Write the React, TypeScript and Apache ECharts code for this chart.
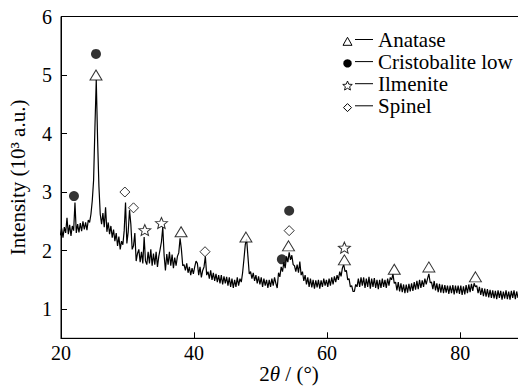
import React, { useEffect, useRef } from "react";
import * as echarts from "echarts";

// XRD pattern: intensities (10^3 a.u.) sampled every 0.2° of 2θ starting at 19.9°
const X_START = 19.9;
const X_STEP = 0.2;
const seg19_9 = [2.26,2.38,2.22,2.40,2.30,2.56,2.28,2.44,2.25,2.42,2.34,2.82,2.30,2.45,2.31,2.47,2.33,2.50,2.36,2.48,2.35,2.52,2.48,2.62,2.85];
const seg24_9 = [3.20,4.10,4.92,3.90,3.10,2.62,2.45,2.64,2.40,2.74,2.32,2.48,2.28,2.42,2.22,2.36,2.16,2.30,2.08,2.24,2.02,2.16,2.10,2.34,2.82];
const seg29_9 = [2.12,2.32,2.69,2.45,2.02,2.08,2.30,1.82,1.95,2.02,1.80,1.98,1.78,2.23,1.82,1.76,1.98,1.78,2.02,1.74,1.95,1.76,1.98,1.72,1.90];
const seg34_9 = [2.02,2.15,2.40,1.92,1.66,1.94,1.76,1.98,1.74,1.93,1.70,1.88,1.74,1.90,1.96,2.21,2.02,1.74,1.76,1.66,1.78,1.62,1.72,1.58,1.70];
const seg39_9 = [1.60,1.72,1.82,1.78,1.58,1.72,1.54,1.66,1.72,1.90,1.58,1.64,1.52,1.66,1.50,1.62,1.48,1.60,1.46,1.58,1.44,1.58,1.42,1.56,1.44];
const seg44_9 = [1.55,1.40,1.54,1.38,1.52,1.36,1.50,1.38,1.54,1.40,1.52,1.46,1.62,1.85,2.10,2.20,1.90,1.60,1.64,1.52,1.62,1.48,1.58,1.44,1.56];
const seg49_9 = [1.42,1.54,1.38,1.52,1.40,1.50,1.36,1.50,1.38,1.52,1.40,1.54,1.44,1.36,1.62,1.55,1.72,1.64,1.80,1.70,1.90,1.80,1.97,1.84,1.92];
const seg54_9 = [1.76,1.74,1.64,1.76,1.62,1.81,1.58,1.64,1.48,1.58,1.42,1.54,1.38,1.52,1.37,1.50,1.35,1.49,1.37,1.50,1.35,1.49,1.38,1.52,1.40];
const seg59_9 = [1.50,1.38,1.52,1.40,1.54,1.42,1.56,1.46,1.58,1.50,1.64,1.56,1.70,1.76,1.64,1.66,1.50,1.52,1.38,1.40,1.30,1.30,1.42,1.38,1.52];
const seg64_9 = [1.38,1.54,1.40,1.54,1.36,1.52,1.38,1.55,1.35,1.52,1.38,1.53,1.36,1.50,1.34,1.50,1.36,1.52,1.38,1.50,1.36,1.52,1.40,1.54,1.50];
const seg69_9 = [1.60,1.44,1.46,1.32,1.46,1.30,1.44,1.29,1.42,1.27,1.42,1.28,1.43,1.30,1.44,1.31,1.46,1.33,1.48,1.34,1.50,1.36,1.49,1.38,1.52];
const seg74_9 = [1.42,1.52,1.60,1.45,1.46,1.34,1.48,1.32,1.44,1.29,1.43,1.28,1.42,1.27,1.41,1.28,1.40,1.26,1.40,1.27,1.41,1.25,1.40,1.27,1.40];
const seg79_9 = [1.26,1.40,1.24,1.39,1.25,1.41,1.27,1.42,1.29,1.43,1.31,1.44,1.38,1.40,1.27,1.38,1.24,1.36,1.22,1.35,1.21,1.34,1.20,1.33,1.19];
const seg84_9 = [1.32,1.18,1.31,1.17,1.32,1.19,1.31,1.16,1.30,1.18,1.32,1.17,1.30,1.16,1.31,1.19,1.32,1.17,1.30,1.19,1.31,1.21];

// Phase markers [2θ, intensity]
const anatase = [[25.26,5.0],[38.05,2.32],[47.8,2.23],[54.2,2.08],[62.6,1.84],[70.1,1.68],[75.3,1.72],[82.3,1.55]];
const cristobalite = [[21.95,2.93],[25.26,5.36],[53.2,1.85],[54.3,2.68]];
const ilmenite = [[32.6,2.35],[35.1,2.47],[62.6,2.05]];
const spinel = [[29.6,3.0],[30.9,2.73],[41.65,1.98],[54.3,2.34]];

const legendNames = ["Anatase", "Cristobalite low", "Ilmenite", "Spinel"];
const yTicks = [1, 2, 3, 4, 5, 6];
const xAxisTitle = "2{i|θ} / (°)";
const yAxisTitle = "Intensity (10³ a.u.)";

const FONT = "Times New Roman, Liberation Serif, Tinos, DejaVu Serif, serif";
const STAR = "path://M10 0 L12.65 6.36 L19.51 6.91 L14.28 11.39 L15.88 18.09 L10 14.5 L4.12 18.09 L5.72 11.39 L0.49 6.91 L7.35 6.36 Z";

function starPoints(cx: number, cy: number, r: number) {
  const pts: number[][] = [];
  for (let i = 0; i < 10; i++) {
    const a = (-90 + i * 36) * Math.PI / 180;
    const rr = i % 2 === 0 ? r : r * 0.45;
    pts.push([cx + rr * Math.cos(a), cy + rr * Math.sin(a)]);
  }
  return pts;
}

export default function App() {
  const ref = useRef<HTMLDivElement>(null);
  useEffect(() => {
    const chart = echarts.init(ref.current!, null, { renderer: "svg" });
    const pattern = [
      ...seg19_9, ...seg24_9, ...seg29_9, ...seg34_9, ...seg39_9, ...seg44_9, ...seg49_9,
      ...seg54_9, ...seg59_9, ...seg64_9, ...seg69_9, ...seg74_9, ...seg79_9, ...seg84_9,
    ];
    const lineData = pattern.map((v, i) => [X_START + i * X_STEP, v]);

    const graphics: any[] = [];
    const mx = 347.5;
    legendNames.forEach((name, i) => {
      const cy = 41.3 + i * 22.1;
      if (i === 0) {
        graphics.push({ type: "polygon", shape: { points: [[mx - 4.5, cy + 4], [mx + 4.5, cy + 4], [mx, cy - 4]] }, style: { fill: "#fff", stroke: "#000", lineWidth: 1 } });
      } else if (i === 1) {
        graphics.push({ type: "circle", shape: { cx: mx, cy: cy, r: 4.2 }, style: { fill: "#000" } });
      } else if (i === 2) {
        graphics.push({ type: "polygon", shape: { points: starPoints(mx, cy + 0.5, 5) }, style: { fill: "#fff", stroke: "#000", lineWidth: 0.9 } });
      } else {
        graphics.push({ type: "polygon", shape: { points: [[mx, cy - 4], [mx + 4, cy], [mx, cy + 4], [mx - 4, cy]] }, style: { fill: "#fff", stroke: "#000", lineWidth: 1 } });
      }
      graphics.push({ type: "line", shape: { x1: 355, y1: cy - 1.8, x2: 373, y2: cy - 1.8 }, style: { stroke: "#000", lineWidth: 1 } });
      graphics.push({ type: "text", x: 378, y: cy - 1.8, style: { text: name, fontFamily: FONT, fontSize: 21, fill: "#000", verticalAlign: "middle", align: "left" } });
    });
    // x-axis title
    graphics.push({
      type: "text", x: 289, y: 373.5,
      style: {
        text: xAxisTitle, fontFamily: FONT, fontSize: 21, fill: "#000", align: "center", verticalAlign: "middle", lineHeight: 21,
        rich: { i: { fontFamily: FONT, fontSize: 21, fontStyle: "italic", fill: "#000", lineHeight: 21 } },
      },
    });

    const openStyle = { color: "#fff", borderColor: "#000", borderWidth: 1 };

    chart.setOption({
      animation: false,
      backgroundColor: "#fff",
      textStyle: { fontFamily: FONT },
      grid: {
        left: 61, right: -2, top: 16.5, bottom: 48.7, containLabel: false, outerBoundsMode: "none",
        show: true, borderColor: "#000", borderWidth: 1, backgroundColor: "transparent",
      },
      xAxis: {
        type: "value", min: 20, max: 89, interval: 20,
        axisLine: { lineStyle: { color: "#000", width: 1 } },
        axisTick: { inside: true, length: 6, lineStyle: { color: "#000" } },
        axisLabel: { fontFamily: FONT, fontSize: 20, color: "#000", margin: 5, showMaxLabel: false },
        splitLine: { show: false },
      },
      yAxis: {
        type: "value", min: 0.5, max: 6,
        name: yAxisTitle, nameLocation: "middle", nameGap: 33,
        nameTextStyle: { fontFamily: FONT, fontSize: 21, color: "#000" },
        axisLine: { show: true, lineStyle: { color: "#000", width: 1 } },
        axisTick: { show: true, inside: true, length: 6, customValues: yTicks, lineStyle: { color: "#000" } },
        axisLabel: { fontFamily: FONT, fontSize: 20, color: "#000", margin: 9, customValues: yTicks },
        splitLine: { show: false },
      },
      series: [
        { type: "line", data: lineData, showSymbol: false, symbol: "none", lineStyle: { color: "#000", width: 1.2 }, z: 2, silent: true },
        { type: "scatter", name: "Anatase", data: anatase, symbol: "triangle", symbolSize: [12, 10], itemStyle: openStyle, z: 5 },
        { type: "scatter", name: "Cristobalite low", data: cristobalite, symbol: "circle", symbolSize: 10, itemStyle: { color: "#000" }, z: 5 },
        { type: "scatter", name: "Ilmenite", data: ilmenite, symbol: STAR, symbolSize: [12, 11], itemStyle: openStyle, z: 5 },
        { type: "scatter", name: "Spinel", data: spinel, symbol: "diamond", symbolSize: [10, 10], itemStyle: openStyle, z: 5 },
      ],
      graphic: graphics,
    });
    return () => chart.dispose();
  }, []);
  return <div ref={ref} style={{ position: "fixed", left: 0, top: 0, width: 518, height: 387 }} />;
}
